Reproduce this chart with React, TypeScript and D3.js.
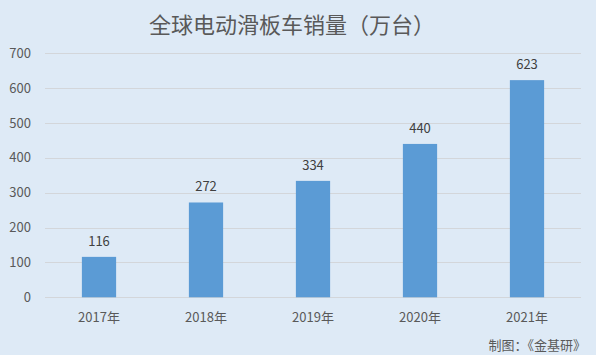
import React from "react";
import * as d3 from "d3";

const categories = ["2017年", "2018年", "2019年", "2020年", "2021年"];
const values = [116, 272, 334, 440, 623];
const yTicks = [0, 100, 200, 300, 400, 500, 600, 700];
const title = "全球电动滑板车销量（万台）";
const source = "制图：《金基研》";

const W = 596;
const H = 355;
const FONT = "'Noto Sans CJK SC', 'Noto Sans', sans-serif";

export default function App() {
  const x = d3.scaleBand<string>().domain(categories).range([45.5, 580.5]).paddingInner(0.68).paddingOuter(0.34);
  const y = d3.scaleLinear().domain([0, 700]).range([297.3, 53.3]);
  return (
    <svg width={W} height={H} style={{ position: "absolute", left: 0, top: 0, display: "block" }} fontFamily={FONT}>
      <rect x={0} y={0} width={W} height={H} fill="#deeaf6" />
      <text x={292} y={33} textAnchor="middle" fontSize={22} fill="#595959">{title}</text>
      {yTicks.map((t) => (
        <g key={t}>
          <line x1={45} x2={581} y1={Math.round(y(t)) + 0.5} y2={Math.round(y(t)) + 0.5} stroke="#d3d6da" strokeWidth={1} />
          <text x={31} y={y(t) + 4.5} textAnchor="end" fontSize={13} fill="#595959">{t}</text>
        </g>
      ))}
      {values.map((v, i) => {
        const bx = x(categories[i])!;
        return (
          <g key={i}>
            <rect x={bx} y={y(v)} width={x.bandwidth()} height={y(0) - y(v)} fill="#5b9bd5" />
            <text x={bx + x.bandwidth() / 2} y={y(v) - 11} textAnchor="middle" fontSize={13} fill="#404040">{v}</text>
          </g>
        );
      })}
      {categories.map((c) => (
        <text key={c} x={x(c)! + x.bandwidth() / 2} y={322} textAnchor="middle" fontSize={13} fill="#595959">{c}</text>
      ))}
      <text x={586} y={350} textAnchor="end" fontSize={13} fill="#595959">{source}</text>
    </svg>
  );
}
